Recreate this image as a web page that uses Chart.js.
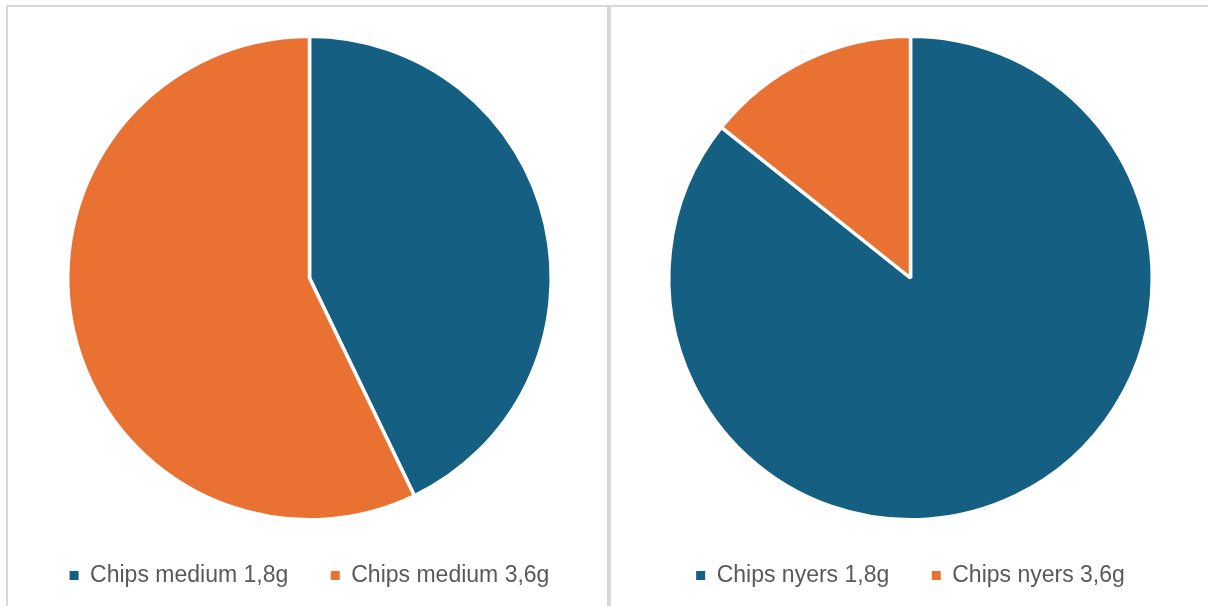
<!DOCTYPE html>
<html>
<head>
<meta charset="utf-8">
<script src="https://cdn.jsdelivr.net/npm/chart.js@4"></script>
<style>
  html, body { margin: 0; padding: 0; background: #fff; overflow: hidden; }
  .panel {
    position: absolute;
    top: 5px;
    height: 640px;
    box-sizing: border-box;
    border: 2px solid #d9d9d9;
    background: #fff;
  }
  #leftPanel { left: 6px; width: 603px; }
  #rightPanel { left: 609px; width: 602px; }
  .panel canvas { display: block; }
  #chartMedium { margin-left: 2px; }
</style>
</head>
<body>
<div class="panel" id="leftPanel"><canvas id="chartMedium"></canvas></div>
<div class="panel" id="rightPanel"><canvas id="chartNyers"></canvas></div>
<script>
// chips sorted by weight class
const mediumLabels = ["Chips medium 1,8g", "Chips medium 3,6g"];
const mediumValues = [3, 4];

const nyersLabels = ["Chips nyers 1,8g", "Chips nyers 3,6g"];
const nyersValues = [6, 1];

const sliceColors = ["#156082", "#E97132"];

function makePie(canvasId, labels, values) {
  const el = document.getElementById(canvasId);
  el.width = 599;
  el.height = 590;
  el.style.width = "599px";
  el.style.height = "590px";

  return new Chart(el.getContext("2d"), {
    type: "pie",
    data: {
      labels: labels,
      datasets: [{
        data: values,
        backgroundColor: sliceColors,
        borderColor: "#ffffff",
        borderWidth: 3.5,
      }],
    },
    options: {
      responsive: false,
      animation: false,
      layout: { padding: { top: 27.5, bottom: 0, left: 0, right: 0 } },
      plugins: {
        tooltip: { enabled: false },
        legend: {
          position: "bottom",
          labels: {
            color: "#595959",
            font: { family: "'Liberation Sans', Arial, sans-serif", size: 23 },
            boxWidth: 9,
            boxHeight: 9,
            padding: 42.5,
            generateLabels: (chart) => {
              const items = Chart.overrides.pie.plugins.legend.labels.generateLabels(chart);
              items.forEach((it) => {
                it.strokeStyle = it.fillStyle;
                it.lineWidth = 0;
              });
              return items;
            },
          },
        },
      },
    },
  });
}

makePie("chartMedium", mediumLabels, mediumValues);
makePie("chartNyers", nyersLabels, nyersValues);
</script>
</body>
</html>
